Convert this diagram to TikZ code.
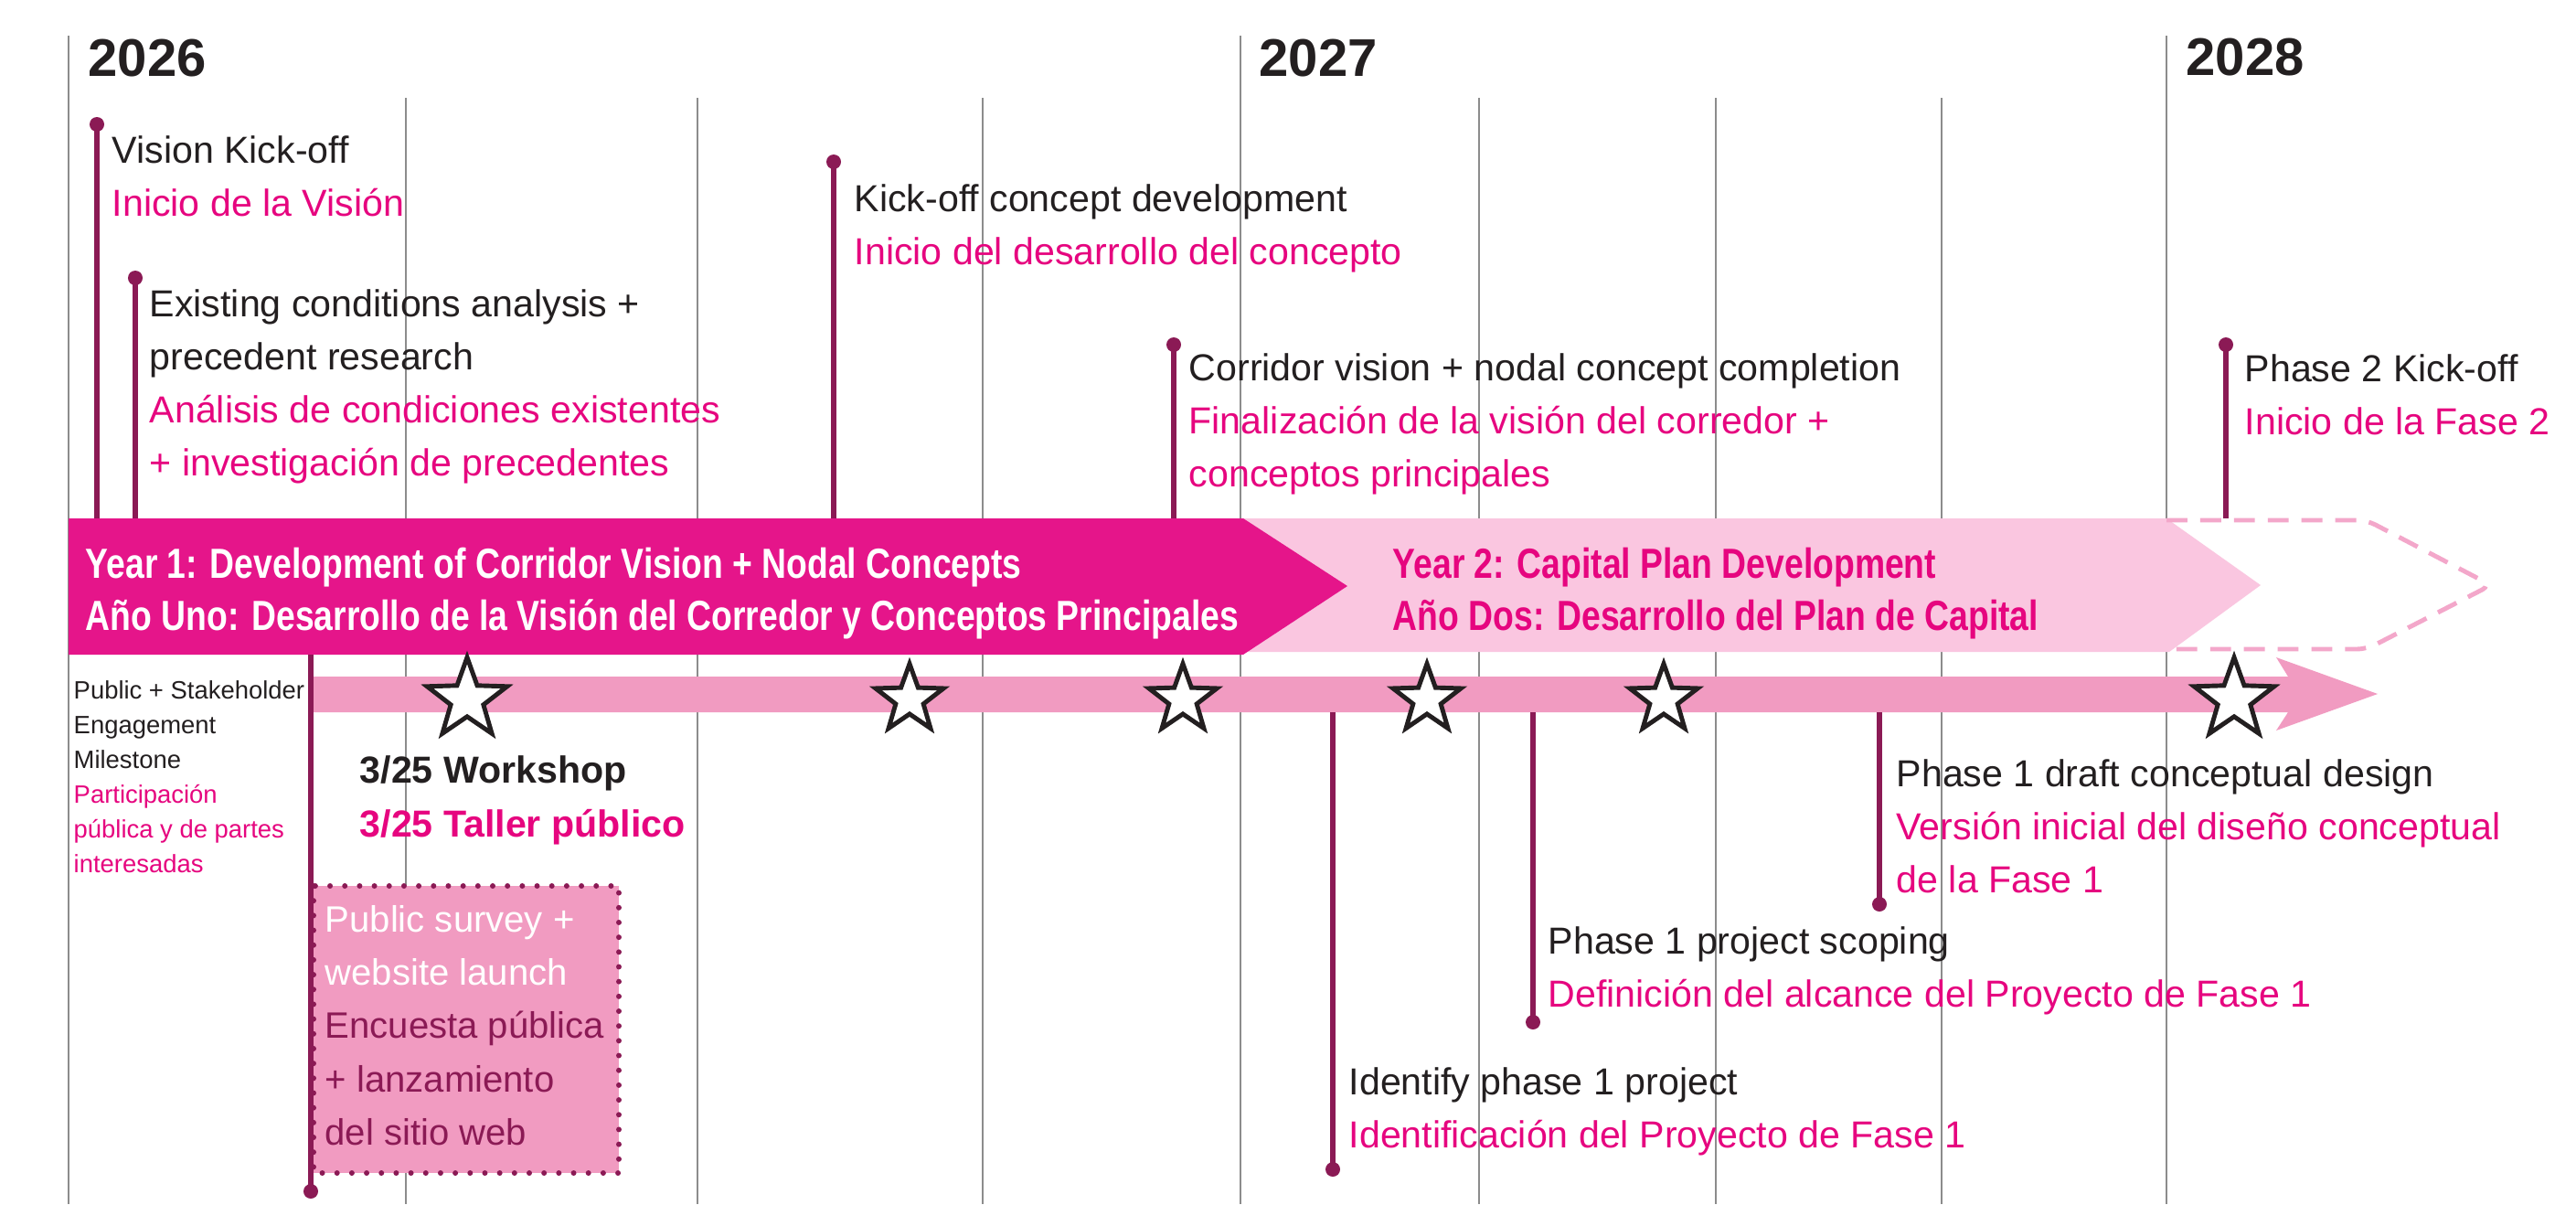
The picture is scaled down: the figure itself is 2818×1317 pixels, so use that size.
\documentclass[tikz,border=0pt]{standalone}
\usepackage{fontspec}
\setmainfont{Liberation Sans}
\newfontfamily\narrowfont[FakeStretch=0.81]{Liberation Sans}
\usetikzlibrary{shapes.geometric}
\definecolor{magband}{HTML}{E5158A}
\definecolor{magtext}{HTML}{E6057F}
\definecolor{paleband}{HTML}{FAC6E0}
\definecolor{engpink}{HTML}{F19BC1}
\definecolor{dashpink}{HTML}{F3A7CA}
\definecolor{stemcol}{HTML}{8B1A55}
\definecolor{inkblack}{HTML}{231F20}
\definecolor{gridgray}{HTML}{8C8C8C}
\begin{document}
\begin{tikzpicture}[x=0.01cm, y=-0.01cm,
  grid/.style={gridgray, line width=0.8pt},
  stem/.style={stemcol, line width=1.7pt},
  dot/.style={circle, fill=stemcol, inner sep=0, minimum size=0.16cm},
  starmark/.style={star, star points=5, star point ratio=2.45, draw=inkblack, fill=white, line width=1.4pt, inner sep=0},
  lbl/.style={anchor=base west, inner sep=0, align=left, text=inkblack, font=\fontsize{11.7}{16.4}\selectfont},
  head/.style={anchor=base west, inner sep=0, align=left, font=\narrowfont\bfseries\fontsize{13.1}{16.2}\selectfont},
  yearlbl/.style={anchor=base west, inner sep=0, text=inkblack, font=\bfseries\fontsize{16.5}{18}\selectfont}]
\useasboundingbox[fill=white] (0,0) rectangle (2818,1317);
% month and year lines
\foreach \gx in {75,1357,2370} \draw[grid] (\gx,39) -- (\gx,1317);
\foreach \gx in {444,763,1075,1618,1877,2124} \draw[grid] (\gx,107) -- (\gx,1317);
\node[yearlbl] (y26) at (96,83) {2026};
\node[yearlbl] (y27) at (1377,83) {2027};
\node[yearlbl] (y28) at (2391,82) {2028};
% year bands (a node's base is its last line)
\fill[paleband] (1300,567) -- (2370,567) -- (2473,640) -- (2373,713) -- (1300,713) -- cycle;
\draw[dashpink, line width=1.4pt, dash pattern=on 6.5pt off 4pt, rounded corners=3pt] (2370,569) -- (2589,569) -- (2725,640) -- (2589,710) -- (2373,710);
\fill[magband] (75,567) -- (1360,567) -- (1474,641) -- (1360,716) -- (75,716) -- cycle;
\node[head, text=white] (y1t) at (93,689) {Year 1: Development of Corridor Vision + Nodal Concepts\\Año Uno: Desarrollo de la Visión del Corredor y Conceptos Principales};
\node[head, text=magtext] (y2t) at (1523,689) {Year 2: Capital Plan Development\\Año Dos: Desarrollo del Plan de Capital};
\coordinate (bandtop) at (0,567);
\coordinate (bandbot) at (0,716);
\coordinate (barbot) at (0,779);
% engagement arrow
\fill[engpink] (340,740) -- (2503,740) -- (2490,719) -- (2601,759) -- (2490,799) -- (2503,779) -- (340,779) -- cycle;
% milestones above
\foreach \nm/\mx/\my in {vk/106/136, ec/148/304, kc/912/177, cv/1284/377, pt/2435/377}{
  \node[dot] (\nm) at (\mx,\my) {};
  \draw[stem] (\nm.center) -- (\nm.center |- bandtop);
}
% milestones below
\foreach \nm/\mx/\my in {ip/1458/1279, ps/1677/1118, dc/2056/989}{
  \node[dot] (\nm) at (\mx,\my) {};
  \draw[stem] (\nm.center) -- (\nm.center |- barbot);
}
\node[dot] (en) at (340,1303) {};
\draw[stem] (en.center) -- (en.center |- bandbot);
% stars
\foreach \sx/\sz [count=\i] in {511/0.92, 995/0.78, 1294/0.78, 1561/0.78, 1820/0.78, 2444/0.92}
  \node[starmark, minimum size=\sz cm] (star\i) at (\sx,765) {};
% survey box
\fill[engpink] (343,969) rectangle (677,1283);
\draw[stemcol, line width=1.7pt, line cap=round, dash pattern=on 0pt off 4.6pt] (343,969) rectangle (677,1283);
\node[lbl, text=white, font=\fontsize{11.4}{16.5}\selectfont] (sv) at (355,1252) {Public survey +\\website launch\\\textcolor{stemcol}{Encuesta pública}\\\textcolor{stemcol}{+ lanzamiento}\\\textcolor{stemcol}{del sitio web}};
% labels
\node[lbl] (vkt) at (122,236) {Vision Kick-off\\\textcolor{magtext}{Inicio de la Visión}};
\node[lbl] (ect) at (163,520) {Existing conditions analysis +\\precedent research\\\textcolor{magtext}{Análisis de condiciones existentes}\\\textcolor{magtext}{+ investigación de precedentes}};
\node[lbl] (kct) at (934,289) {Kick-off concept development\\\textcolor{magtext}{Inicio del desarrollo del concepto}};
\node[lbl] (cvt) at (1300,532) {Corridor vision + nodal concept completion\\\textcolor{magtext}{Finalización de la visión del corredor +}\\\textcolor{magtext}{conceptos principales}};
\node[lbl] (ptt) at (2455,475) {Phase 2 Kick-off\\\textcolor{magtext}{Inicio de la Fase 2}};
\node[lbl] (dct) at (2074,976) {Phase 1 draft conceptual design\\\textcolor{magtext}{Versión inicial del diseño conceptual}\\\textcolor{magtext}{de la Fase 1}};
\node[lbl] (pst) at (1693,1101) {Phase 1 project scoping\\\textcolor{magtext}{Definición del alcance del Proyecto de Fase 1}};
\node[lbl] (ipt) at (1475,1255) {Identify phase 1 project\\\textcolor{magtext}{Identificación del Proyecto de Fase 1}};
\node[lbl, font=\fontsize{7.8}{10.8}\selectfont] (ent) at (80,954) {Public + Stakeholder\\Engagement\\Milestone\\\textcolor{magtext}{Participación}\\\textcolor{magtext}{pública y de partes}\\\textcolor{magtext}{interesadas}};
\node[lbl, font=\bfseries\fontsize{11.7}{16.5}\selectfont] (wst) at (393,915) {3/25 Workshop\\\textcolor{magtext}{3/25 Taller público}};
\end{tikzpicture}
\end{document}
